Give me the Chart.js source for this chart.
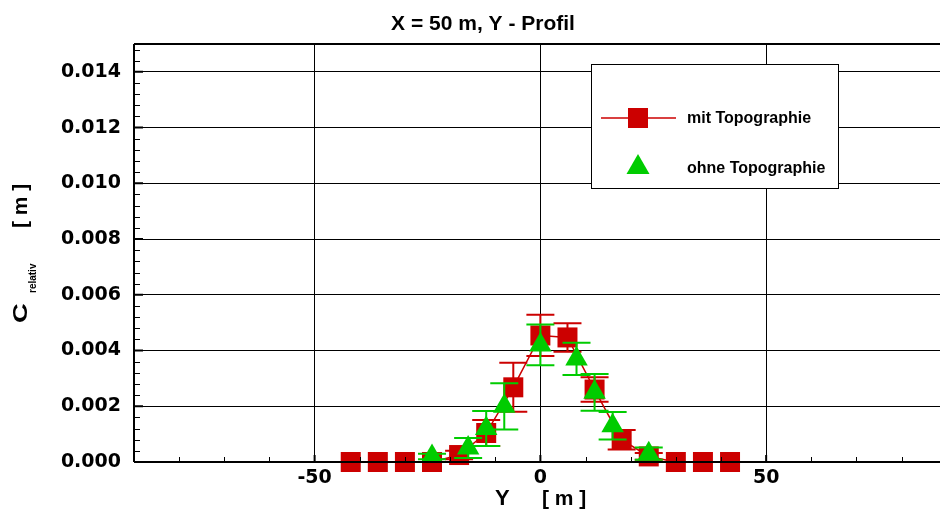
<!DOCTYPE html>
<html>
<head>
<meta charset="utf-8">
<script src="https://cdn.jsdelivr.net/npm/chart.js@4/dist/chart.umd.min.js"></script>
<style>
  html, body { margin: 0; padding: 0; background: #fff; overflow: hidden; }
  #wrap { width: 940px; height: 513px; position: relative; }
  canvas { display: block; }
</style>
</head>
<body>
<div id="wrap"><canvas id="chart"></canvas></div>
<script>
'use strict';

// Messwerte: mit Topographie (rote Quadrate, verbunden)
const mitY = [-42, -36, -30, -24, -18, -12, -6, 0, 6, 12, 18, 24, 30, 36, 42];
const mitC = [0, 0, 0, 0, 0.00025, 0.00104, 0.00268, 0.00454, 0.00447, 0.0026, 0.0008, 0.0002, 0, 0, 0];
const mitErr = [0, 0, 0, 0, 0.00015, 0.00047, 0.00088, 0.00074, 0.00051, 0.00044, 0.00035, 0.00012, 0, 0, 0];

// ohne Topographie (grüne Dreiecke)
const ohneY = [-24, -16, -12, -8, 0, 8, 12, 16, 24];
const ohneC = [0.0002, 0.0005, 0.0012, 0.002, 0.0042, 0.0037, 0.0025, 0.0013, 0.0003];
const ohneErr = [0.0001, 0.00036, 0.00063, 0.00083, 0.00073, 0.00058, 0.00066, 0.00049, 0.00022];

const xTicks = [-50, 0, 50];
const yTicks = [0, 0.002, 0.004, 0.006, 0.008, 0.010, 0.012, 0.014];
const xMinorStep = 10;
const yMinorStep = 0.0004;

const RED = '#cc0000';
const GREEN = '#00cc00';
const errData = [ohneErr, mitErr];

const framePlugin = {
  id: 'frame',
  beforeDatasetDraw(chart, args) {
    const errs = errData[args.index];
    if (!errs) return;
    const ctx = chart.ctx;
    const ys = chart.scales.y;
    const ds = chart.data.datasets[args.index];
    ctx.save();
    ctx.strokeStyle = ds.pointBackgroundColor;
    ctx.lineWidth = 2;
    args.meta.data.forEach((pt, i) => {
      const v = ds.data[i].y;
      const e = errs[i];
      const top = ys.getPixelForValue(v + e);
      const bot = ys.getPixelForValue(v - e);
      ctx.beginPath();
      ctx.moveTo(pt.x, top); ctx.lineTo(pt.x, bot);
      ctx.moveTo(pt.x - 14, top); ctx.lineTo(pt.x + 14, top);
      ctx.moveTo(pt.x - 14, bot); ctx.lineTo(pt.x + 14, bot);
      ctx.stroke();
    });
    ctx.restore();
  },
  afterDatasetsDraw(chart) {
    const ctx = chart.ctx;
    const a = chart.chartArea;
    const xs = chart.scales.x, ys = chart.scales.y;
    ctx.save();
    ctx.strokeStyle = '#000';

    // Rahmen
    ctx.lineWidth = 2;
    ctx.beginPath();
    ctx.moveTo(a.left, a.top); ctx.lineTo(a.right, a.top);
    ctx.moveTo(a.left, a.top); ctx.lineTo(a.left, a.bottom);
    ctx.moveTo(a.left, a.bottom); ctx.lineTo(a.right, a.bottom);
    ctx.stroke();

    // Hauptstriche
    ctx.beginPath();
    yTicks.forEach(v => {
      const p = ys.getPixelForValue(v);
      ctx.moveTo(a.left, p); ctx.lineTo(a.left + 9, p);
    });
    xTicks.forEach(v => {
      const p = xs.getPixelForValue(v);
      ctx.moveTo(p, a.bottom); ctx.lineTo(p, a.bottom - 7);
    });
    ctx.stroke();

    // Nebenstriche
    ctx.lineWidth = 1;
    ctx.beginPath();
    for (let k = 1; k * yMinorStep < ys.max; k++) {
      if (k % 5 === 0) continue;
      const p = Math.round(ys.getPixelForValue(k * yMinorStep)) + 0.5;
      ctx.moveTo(a.left, p); ctx.lineTo(a.left + 6, p);
    }
    for (let v = Math.ceil(xs.min / xMinorStep) * xMinorStep; v <= xs.max; v += xMinorStep) {
      if (v % 50 === 0) continue;
      const p = Math.round(xs.getPixelForValue(v)) + 0.5;
      ctx.moveTo(p, a.bottom); ctx.lineTo(p, a.bottom - 5);
    }
    ctx.stroke();

    // Legende
    const lx = 591, ly = 64, lw = 247, lh = 124;
    ctx.fillStyle = '#fff';
    ctx.fillRect(lx, ly, lw, lh);
    ctx.lineWidth = 1;
    ctx.strokeRect(lx + 0.5, ly + 0.5, lw, lh);

    ctx.strokeStyle = RED;
    ctx.lineWidth = 1.5;
    ctx.beginPath();
    ctx.moveTo(601, 118); ctx.lineTo(676, 118);
    ctx.stroke();
    ctx.fillStyle = RED;
    ctx.fillRect(628, 108, 20, 20);

    ctx.fillStyle = GREEN;
    ctx.beginPath();
    ctx.moveTo(638, 154); ctx.lineTo(649.5, 174); ctx.lineTo(626.5, 174);
    ctx.closePath();
    ctx.fill();

    ctx.fillStyle = '#000';
    ctx.font = 'bold 16px "Liberation Sans", Arial, sans-serif';
    ctx.textAlign = 'left';
    ctx.textBaseline = 'alphabetic';
    ctx.fillText('mit Topographie', 687, 123);
    ctx.fillText('ohne Topographie', 687, 173);

    ctx.restore();
  },
  afterDraw(chart) {
    const ctx = chart.ctx;
    ctx.save();
    ctx.fillStyle = '#000';
    ctx.textBaseline = 'alphabetic';

    // Titel
    ctx.font = 'bold 21px "Liberation Sans", Arial, sans-serif';
    ctx.textAlign = 'center';
    ctx.fillText('X = 50 m, Y - Profil', 483, 30);

    // x-Achsentitel
    ctx.textAlign = 'left';
    ctx.font = 'bold 22px "Liberation Sans", Arial, sans-serif';
    ctx.fillText('Y', 495, 505);
    ctx.font = 'bold 21px "Liberation Sans", Arial, sans-serif';
    ctx.fillText('[ m ]', 542, 505);

    // y-Achsentitel
    ctx.translate(27, 323);
    ctx.rotate(-Math.PI / 2);
    ctx.font = 'bold 21px "Liberation Sans", Arial, sans-serif';
    ctx.save();
    ctx.scale(1.3, 1);
    ctx.fillText('C', 0, 0);
    ctx.restore();
    ctx.font = 'bold 10px "Liberation Sans", Arial, sans-serif';
    ctx.fillText('relativ', 30, 9);
    ctx.font = 'bold 21px "Liberation Sans", Arial, sans-serif';
    ctx.fillText('[ m ]', 95, 0);
    ctx.restore();
  }
};

const tickFont = { family: '"DejaVu Sans", sans-serif', size: 19, weight: 'bold' };

new Chart(document.getElementById('chart'), {
  type: 'scatter',
  data: {
    datasets: [
      {
        label: 'ohne Topographie',
        data: ohneY.map((y, i) => ({ x: y, y: ohneC[i] })),
        showLine: false,
        pointStyle: 'triangle',
        pointRadius: 13,
        pointBackgroundColor: GREEN,
        pointBorderWidth: 0,
        clip: false,
        order: 0
      },
      {
        label: 'mit Topographie',
        data: mitY.map((y, i) => ({ x: y, y: mitC[i] })),
        showLine: true,
        borderColor: RED,
        borderWidth: 1.5,
        pointStyle: 'rect',
        pointRadius: 14.14,
        pointBackgroundColor: RED,
        pointBorderWidth: 0,
        clip: false,
        order: 1
      }
    ]
  },
  options: {
    responsive: true,
    maintainAspectRatio: false,
    animation: false,
    events: [],
    layout: { autoPadding: false, padding: { top: 44, left: 0, right: 0, bottom: 0 } },
    plugins: { legend: { display: false }, tooltip: { enabled: false }, title: { display: false } },
    scales: {
      x: {
        type: 'linear',
        min: -90,
        max: 88.5,
        afterBuildTicks: s => { s.ticks = xTicks.map(v => ({ value: v })); },
        afterFit: s => { s.height = 51; s.paddingLeft = 0; s.paddingRight = 0; },
        grid: { color: '#000', lineWidth: 1, drawTicks: false },
        border: { display: false },
        ticks: { color: '#000', font: tickFont, padding: 5, maxRotation: 0, callback: v => String(v) }
      },
      y: {
        type: 'linear',
        min: 0,
        max: 0.015,
        afterBuildTicks: s => { s.ticks = yTicks.map(v => ({ value: v })); },
        afterFit: s => { s.width = 134; s.paddingTop = 0; s.paddingBottom = 0; },
        grid: { color: '#000', lineWidth: 1, drawTicks: false },
        border: { display: false },
        ticks: { color: '#000', font: tickFont, padding: 13, callback: v => Number(v).toFixed(3) }
      }
    }
  },
  plugins: [framePlugin]
});
</script>
</body>
</html>
